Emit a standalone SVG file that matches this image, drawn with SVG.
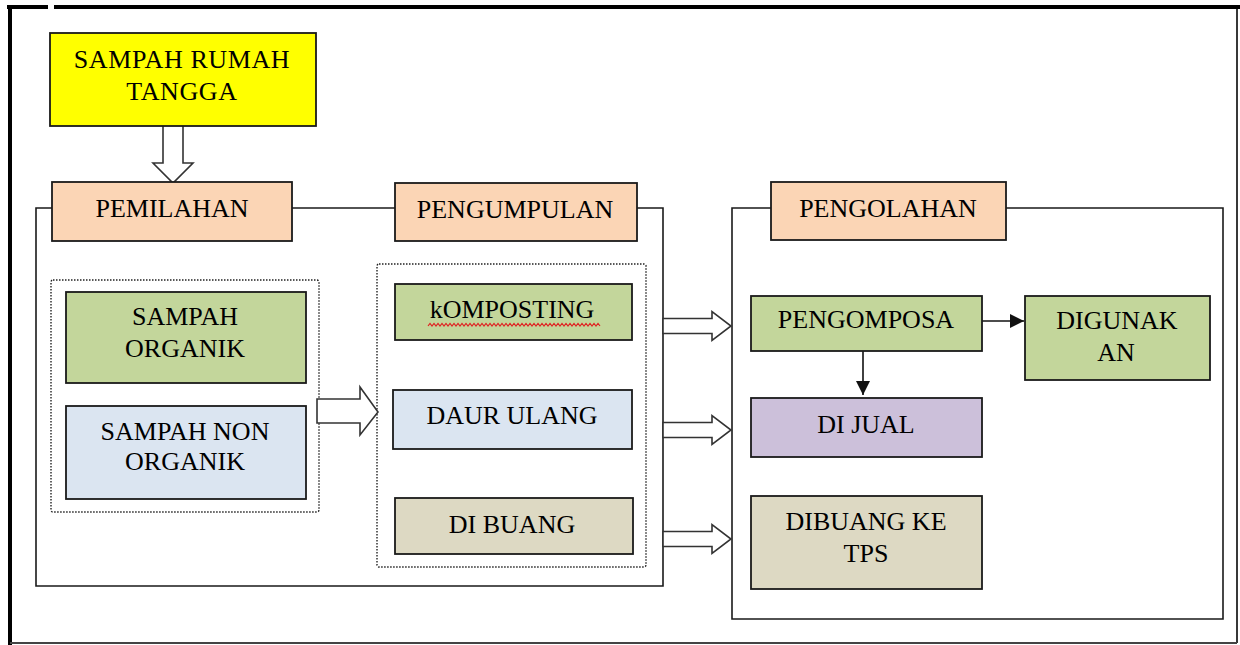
<svg xmlns="http://www.w3.org/2000/svg" width="1240" height="645" viewBox="0 0 1240 645">
<defs>
<style>
.t{font-family:"Liberation Serif","Times New Roman",serif;font-size:26px;fill:#000;text-anchor:middle}
.box{stroke:#1a1a1a;stroke-width:1.8}
.grp{fill:none;stroke:#1a1a1a;stroke-width:1.6}
.dot{fill:none;stroke:#222;stroke-width:1.4;stroke-dasharray:1.5 1.5}
.hollow{fill:#fff;stroke:#333;stroke-width:1.6;stroke-linejoin:miter}
.peach{fill:#FBD5B5}
.green{fill:#C3D69B}
.blue{fill:#DBE5F1}
.tan{fill:#DDD9C3}
.purple{fill:#CCC0DA}
.yellow{fill:#FFFF00}
.line{stroke:#111;stroke-width:1.6;fill:none}
</style>
<marker id="ah" viewBox="0 0 10 10" refX="10" refY="5" markerWidth="15" markerHeight="14" markerUnits="userSpaceOnUse" orient="auto">
<path d="M0,0 L10,5 L0,10 Z" fill="#111"/>
</marker>
</defs>
<rect width="1240" height="645" fill="#fff"/>
<g id="frame">
<line x1="7" y1="7" x2="48" y2="7" stroke="#000" stroke-width="4"/>
<line x1="54" y1="7" x2="1240" y2="7" stroke="#000" stroke-width="4"/>
<line x1="10" y1="5" x2="10" y2="645" stroke="#000" stroke-width="4"/>
<line x1="1237" y1="9" x2="1237" y2="643" stroke="#222" stroke-width="1.8"/>
<line x1="10" y1="643" x2="1237" y2="643" stroke="#444" stroke-width="2"/>
</g>
<g id="group-left">
<polyline class="grp" points="52,208 36,208 36,586 663,586 663,208 637,208"/>
<line class="grp" x1="292" y1="208" x2="395" y2="208"/>
</g>
<g id="group-right">
<polyline class="grp" points="771,208 732,208 732,619 1223,619 1223,208 1006,208"/>
</g>
<rect id="dotted-left" class="dot" x="51" y="280" width="268" height="232" rx="2"/>
<rect id="dotted-mid" class="dot" x="377" y="264" width="269" height="303" rx="2"/>
<g id="connectors">
<polygon class="hollow" points="163,124 183,124 183,163 193,163 173,183 153,163 163,163"/>
<polygon class="hollow" points="317,399 360,399 360,387 378,412 360,435 360,423 317,423"/>
<polygon class="hollow" points="663,318.5 712,318.5 712,311.5 731,326 712,340.5 712,333.5 663,333.5"/>
<polygon class="hollow" points="663,422.5 712,422.5 712,415.5 731,430 712,444.5 712,437.5 663,437.5"/>
<polygon class="hollow" points="663,531.5 712,531.5 712,524.5 731,539 712,553.5 712,546.5 663,546.5"/>
<line class="line" x1="982" y1="321" x2="1024" y2="321" marker-end="url(#ah)"/>
<line class="line" x1="863" y1="351" x2="863" y2="395" marker-end="url(#ah)"/>
</g>
<g id="node-sampah-rumah-tangga">
<rect class="box yellow" x="50" y="33" width="266" height="93"/>
<text class="t" x="182" y="68" letter-spacing="0.6">SAMPAH RUMAH</text>
<text class="t" x="182" y="100" letter-spacing="0.6">TANGGA</text>
</g>
<g id="node-pemilahan">
<rect class="box peach" x="52" y="182" width="240" height="59"/>
<text class="t" x="172" y="217">PEMILAHAN</text>
</g>
<g id="node-pengumpulan">
<rect class="box peach" x="395" y="183" width="242" height="58"/>
<text class="t" x="515" y="218">PENGUMPULAN</text>
</g>
<g id="node-pengolahan">
<rect class="box peach" x="771" y="182" width="235" height="58"/>
<text class="t" x="888" y="217">PENGOLAHAN</text>
</g>
<g id="node-sampah-organik">
<rect class="box green" x="66" y="292" width="240" height="91"/>
<text class="t" x="185" y="325">SAMPAH</text>
<text class="t" x="185" y="357">ORGANIK</text>
</g>
<g id="node-sampah-non-organik">
<rect class="box blue" x="66" y="406" width="240" height="93"/>
<text class="t" x="185" y="440">SAMPAH NON</text>
<text class="t" x="185" y="470">ORGANIK</text>
</g>
<g id="node-komposting">
<rect class="box green" x="395" y="284" width="237" height="56"/>
<text class="t" x="512" y="318">kOMPOSTING</text>
<path d="M428,326 l2,-2.5 l2,2.5 l2,-2.5 l2,2.5 l2,-2.5 l2,2.5 l2,-2.5 l2,2.5 l2,-2.5 l2,2.5 l2,-2.5 l2,2.5 l2,-2.5 l2,2.5 l2,-2.5 l2,2.5 l2,-2.5 l2,2.5 l2,-2.5 l2,2.5 l2,-2.5 l2,2.5 l2,-2.5 l2,2.5 l2,-2.5 l2,2.5 l2,-2.5 l2,2.5 l2,-2.5 l2,2.5 l2,-2.5 l2,2.5 l2,-2.5 l2,2.5 l2,-2.5 l2,2.5 l2,-2.5 l2,2.5 l2,-2.5 l2,2.5 l2,-2.5 l2,2.5 l2,-2.5 l2,2.5 l2,-2.5 l2,2.5 l2,-2.5 l2,2.5 l2,-2.5 l2,2.5 l2,-2.5 l2,2.5 l2,-2.5 l2,2.5 l2,-2.5 l2,2.5 l2,-2.5 l2,2.5 l2,-2.5 l2,2.5 l2,-2.5 l2,2.5 l2,-2.5 l2,2.5 l2,-2.5 l2,2.5 l2,-2.5 l2,2.5 l2,-2.5 l2,2.5 l2,-2.5 l2,2.5 l2,-2.5 l2,2.5 l2,-2.5 l2,2.5 l2,-2.5 l2,2.5 l2,-2.5 l2,2.5 l2,-2.5 l2,2.5 l2,-2.5 l2,2.5 l2,-2.5 l2,2.5" fill="none" stroke="#e02020" stroke-width="1.2"/>
</g>
<g id="node-daur-ulang">
<rect class="box blue" x="393" y="390" width="239" height="59"/>
<text class="t" x="512" y="424">DAUR ULANG</text>
</g>
<g id="node-di-buang">
<rect class="box tan" x="395" y="498" width="238" height="56"/>
<text class="t" x="512" y="533">DI BUANG</text>
</g>
<g id="node-pengomposa">
<rect class="box green" x="751" y="296" width="231" height="55"/>
<text class="t" x="866" y="328">PENGOMPOSA</text>
</g>
<g id="node-digunakan">
<rect class="box green" x="1025" y="296" width="185" height="84"/>
<text class="t" x="1117" y="329">DIGUNAK</text>
<text class="t" x="1116" y="361">AN</text>
</g>
<g id="node-di-jual">
<rect class="box purple" x="751" y="398" width="231" height="59"/>
<text class="t" x="866" y="433">DI JUAL</text>
</g>
<g id="node-dibuang-ke-tps">
<rect class="box tan" x="751" y="496" width="231" height="93"/>
<text class="t" x="866" y="530">DIBUANG KE</text>
<text class="t" x="866" y="562">TPS</text>
</g>
</svg>
